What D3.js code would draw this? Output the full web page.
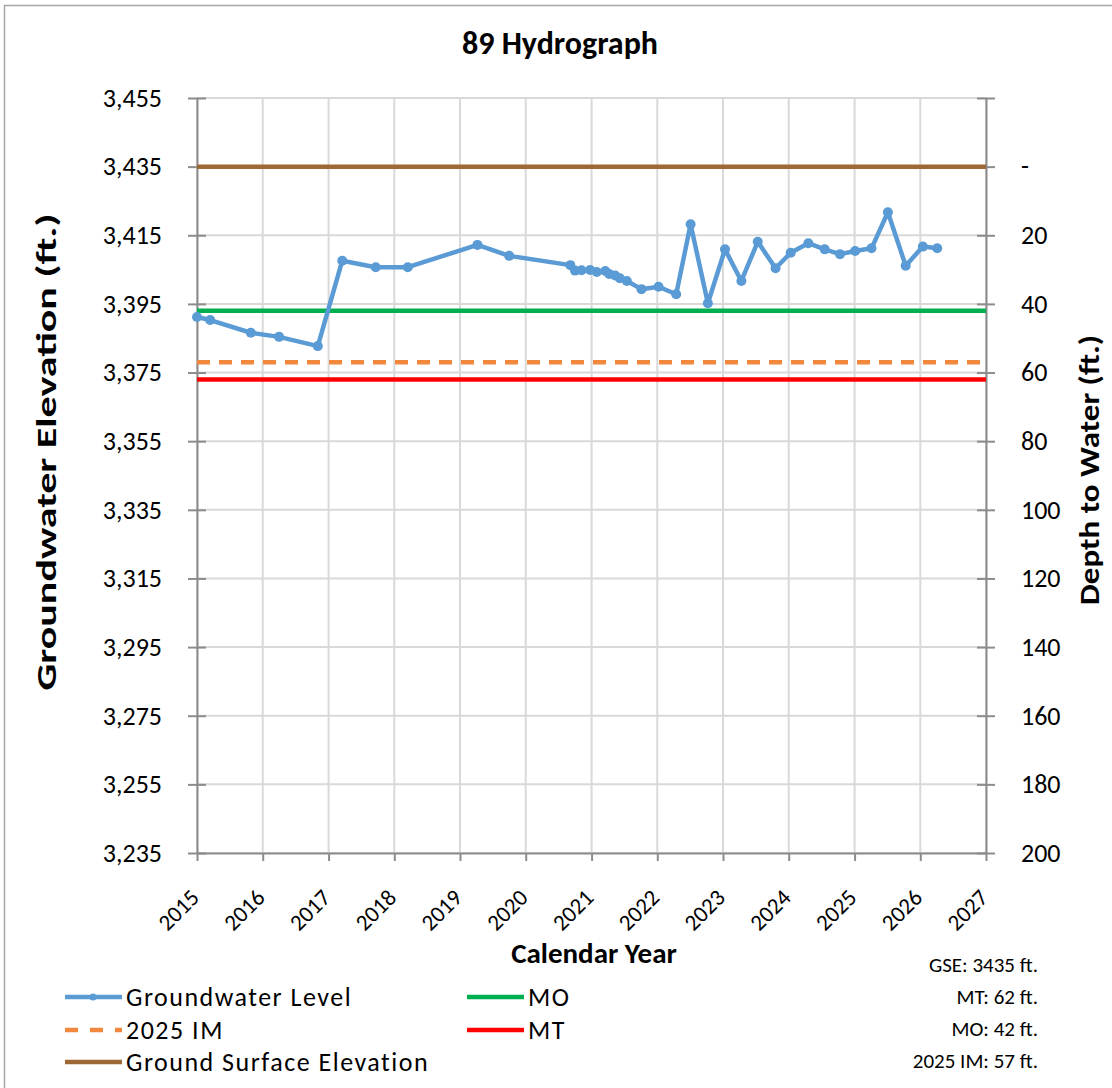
<!DOCTYPE html>
<html>
<head>
<meta charset="utf-8">
<script src="https://cdn.jsdelivr.net/npm/d3@7"></script>
<style>
  body { margin: 0; background: #fff; }
  svg { font-family: Carlito, Calibri, Lato, sans-serif; }
</style>
</head>
<body>
<div id="chart"></div>
<script>
const well_name = "89";
const gse = 3435;
const mo_depth = 42;
const mt_depth = 62;
const im_depth = 57;

const sample_dates = [
    "2015-01-01", "2015-03-15", "2015-10-27", "2016-04-01", "2016-11-02",
    "2017-03-18", "2017-09-20", "2018-03-17", "2019-04-08", "2019-10-01",
    "2020-09-05", "2020-10-01", "2020-11-06", "2020-12-24", "2021-01-30",
    "2021-03-18", "2021-04-09", "2021-05-12", "2021-06-07", "2021-07-16",
    "2021-10-05", "2022-01-08", "2022-04-16", "2022-07-05", "2022-10-09",
    "2023-01-12", "2023-04-13", "2023-07-13", "2023-10-20", "2024-01-12",
    "2024-04-19", "2024-07-19", "2024-10-12", "2025-01-04", "2025-04-05",
    "2025-07-05", "2025-10-12", "2026-01-15", "2026-04-05"
];
const gw_elevation = [
    3391.2, 3390.3, 3386.6, 3385.4, 3382.7,
    3407.6, 3405.7, 3405.7, 3412.2, 3409.0,
    3406.3, 3404.7, 3404.8, 3404.9, 3404.3,
    3404.6, 3403.7, 3403.3, 3402.5, 3401.7,
    3399.3, 3400.0, 3397.8, 3418.2, 3395.2,
    3410.9, 3401.7, 3413.1, 3405.4, 3409.9,
    3412.7, 3410.9, 3409.5, 3410.4, 3411.2,
    3421.7, 3406.1, 3411.7, 3411.2
];
const elev_ticks = [3235, 3255, 3275, 3295, 3315, 3335, 3355, 3375, 3395, 3415, 3435, 3455];
const year_ticks = [2015, 2016, 2017, 2018, 2019, 2020, 2021, 2022, 2023, 2024, 2025, 2026, 2027];

const width = 1112, height = 1088;
const m = { left: 197, right: 986, top: 98, bottom: 853 };
const parse = d3.timeParse("%Y-%m-%d");

const svg = d3.select("#chart").append("svg")
    .attr("width", width).attr("height", height);

svg.append("rect").attr("x", 4.5).attr("y", 5.5)
    .attr("width", 1120).attr("height", 1100)
    .attr("fill", "#fff").attr("stroke", "#a6a6a6").attr("stroke-width", 1.5);

const x = d3.scaleTime()
    .domain([new Date(2015, 0, 1), new Date(2027, 0, 1)])
    .range([m.left, m.right]);
const y = d3.scaleLinear().domain([3235, 3455]).range([m.bottom, m.top]);

// gridlines
svg.append("g").selectAll("line").data(year_ticks).enter().append("line")
    .attr("x1", d => x(new Date(d, 0, 1))).attr("x2", d => x(new Date(d, 0, 1)))
    .attr("y1", m.top).attr("y2", m.bottom)
    .attr("stroke", "#d9d9d9").attr("stroke-width", 2);
svg.append("g").selectAll("line").data(elev_ticks).enter().append("line")
    .attr("x1", m.left).attr("x2", m.right)
    .attr("y1", d => y(d)).attr("y2", d => y(d))
    .attr("stroke", "#d9d9d9").attr("stroke-width", 2);

// axes
const axis_style = g => {
    g.select(".domain").attr("stroke", "#8c8c8c").attr("stroke-width", 2);
    g.selectAll(".tick line").attr("stroke", "#8c8c8c").attr("stroke-width", 2);
    g.selectAll(".tick text").attr("fill", "#000");
    g.attr("font-family", null);
};

svg.append("g").attr("transform", `translate(${m.left},0)`)
    .call(d3.axisLeft(y).tickValues(elev_ticks).tickSize(9).tickSizeOuter(0).tickPadding(26)
        .tickFormat(d3.format(",")))
    .call(axis_style)
    .call(g => g.selectAll(".tick line").attr("x2", -9).attr("x1", 9))
    .call(g => g.selectAll(".tick text").attr("font-size", 26));

svg.append("g").attr("transform", `translate(${m.right},0)`)
    .call(d3.axisRight(y).tickValues(elev_ticks).tickSize(9).tickSizeOuter(0).tickPadding(26)
        .tickFormat(d => {
            const depth = gse - d;
            if (depth < 0) return "";
            return depth === 0 ? "-" : d3.format(",")(depth);
        }))
    .call(axis_style)
    .call(g => g.selectAll(".tick line").attr("x1", -9).attr("x2", 9))
    .call(g => g.selectAll(".tick text").attr("font-size", 26));

svg.append("g").attr("transform", `translate(0,${m.bottom})`)
    .call(d3.axisBottom(x).tickValues(year_ticks.map(d => new Date(d, 0, 1))).tickSize(8).tickSizeOuter(0)
        .tickFormat(d3.timeFormat("%Y")))
    .call(axis_style)
    .call(g => g.selectAll(".tick text")
        .attr("font-size", 23)
        .attr("text-anchor", "end")
        .attr("dy", null)
        .attr("y", 0)
        .attr("transform", "translate(3,46) rotate(-45)"));

// reference lines
const ref_lines = [
    { name: "Ground Surface Elevation", value: gse, color: "#9e6836", dash: null },
    { name: "MO", value: gse - mo_depth, color: "#00b050", dash: null },
    { name: "2025 IM", value: gse - im_depth, color: "#f0883e", dash: "13,9" },
    { name: "MT", value: gse - mt_depth, color: "#ff0000", dash: null }
];
svg.append("g").selectAll("line").data(ref_lines).enter().append("line")
    .attr("x1", m.left).attr("x2", m.right)
    .attr("y1", d => y(d.value)).attr("y2", d => y(d.value))
    .attr("stroke", d => d.color).attr("stroke-width", 4.5)
    .attr("stroke-dasharray", d => d.dash);

// groundwater level
const gw = sample_dates.map((d, i) => ({ date: parse(d), value: gw_elevation[i] }));
const line = d3.line().x(d => x(d.date)).y(d => y(d.value));
svg.append("path").datum(gw)
    .attr("d", line)
    .attr("fill", "none").attr("stroke", "#5b9bd5").attr("stroke-width", 4.5)
    .attr("stroke-linejoin", "round");
svg.append("g").selectAll("circle").data(gw).enter().append("circle")
    .attr("cx", d => x(d.date)).attr("cy", d => y(d.value)).attr("r", 5)
    .attr("fill", "#5b9bd5");

// titles
svg.append("text").attr("x", 560).attr("y", 54).attr("text-anchor", "middle")
    .attr("font-size", 32).attr("font-weight", "bold").text(`${well_name} Hydrograph`);
svg.append("text").attr("x", 594).attr("y", 963).attr("text-anchor", "middle")
    .attr("font-size", 29).attr("font-weight", "bold").text("Calendar Year");
svg.append("text").attr("transform", "translate(56,452) rotate(-90)").attr("text-anchor", "middle")
    .attr("font-size", 28).attr("font-weight", "bold")
    .attr("textLength", 477).attr("lengthAdjust", "spacingAndGlyphs")
    .text("Groundwater Elevation (ft.)");
svg.append("text").attr("transform", "translate(1099,470) rotate(-90)").attr("text-anchor", "middle")
    .attr("font-size", 29).attr("font-weight", "bold")
    .attr("textLength", 270).attr("lengthAdjust", "spacingAndGlyphs")
    .text("Depth to Water (ft.)");

// legend
const legend_items = [
    { name: "Groundwater Level", color: "#5b9bd5", dash: null, marker: true, lx: 65, ly: 997 },
    { name: "MO", color: "#00b050", dash: null, lx: 467, ly: 997 },
    { name: "2025 IM", color: "#f0883e", dash: "13,12", lx: 65, ly: 1030 },
    { name: "MT", color: "#ff0000", dash: null, lx: 467, ly: 1030 },
    { name: "Ground Surface Elevation", color: "#9e6836", dash: null, lx: 65, ly: 1062 }
];
const lg = svg.append("g").selectAll("g").data(legend_items).enter().append("g")
    .attr("transform", d => `translate(${d.lx},${d.ly})`);
lg.append("line").attr("x1", 0).attr("x2", 57).attr("y1", 0).attr("y2", 0)
    .attr("stroke", d => d.color).attr("stroke-width", 4.5)
    .attr("stroke-dasharray", d => d.dash);
lg.filter(d => d.marker).append("circle").attr("cx", 28).attr("cy", 0).attr("r", 3.5)
    .attr("fill", d => d.color);
lg.append("text").attr("x", 61).attr("y", 0).attr("dy", "0.35em")
    .attr("font-size", 26).attr("letter-spacing", 1.5).text(d => d.name);

// notes
const notes = [`GSE: ${gse} ft.`, `MT: ${mt_depth} ft.`, `MO: ${mo_depth} ft.`, `2025 IM: ${im_depth} ft.`];
svg.append("g").selectAll("text").data(notes).enter().append("text")
    .attr("x", 1038).attr("y", (d, i) => 965 + i * 32).attr("dy", "0.35em")
    .attr("text-anchor", "end").attr("font-size", 21).text(d => d);
</script>
</body>
</html>
